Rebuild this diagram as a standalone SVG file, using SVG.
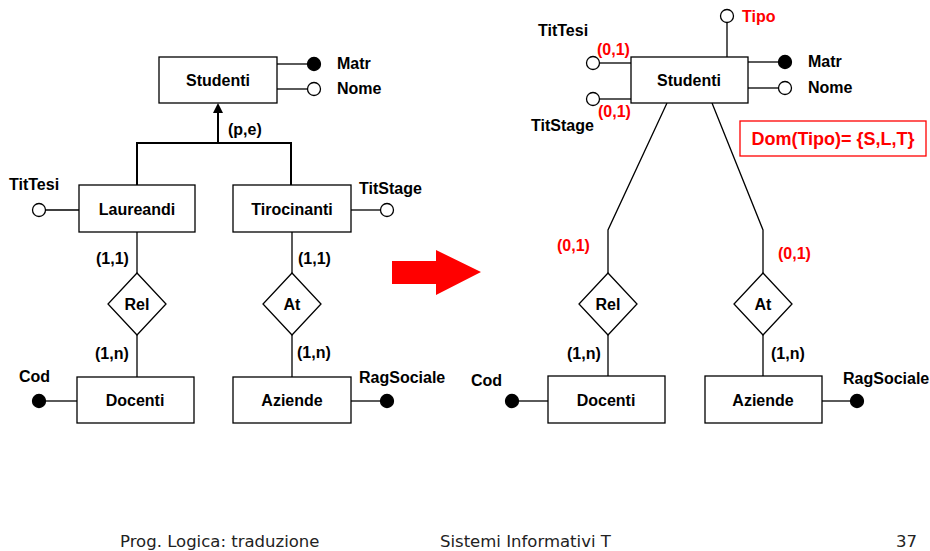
<svg xmlns="http://www.w3.org/2000/svg" width="930" height="551" viewBox="0 0 930 551">
<defs>
<style>
.box{fill:#fff;stroke:#000;stroke-width:1.3}
.ln{stroke:#000;stroke-width:1.3;fill:none}
.isa{stroke:#000;stroke-width:2;fill:none}
.t{font-family:"Liberation Sans",Arial,sans-serif;font-weight:bold;font-size:16px;fill:#000}
.c{text-anchor:middle}
.r{fill:#ff0000}
.oc{fill:#fff;stroke:#000;stroke-width:1.3}
.fc{fill:#000;stroke:#000;stroke-width:1.3}
.ft{font-family:"DejaVu Sans",Tahoma,sans-serif;font-size:16.5px;fill:#222}
</style>
</defs>

<g id="connectors">
<!-- left -->
<line class="ln" x1="277" y1="64" x2="307" y2="64"/>
<line class="ln" x1="277" y1="89" x2="307" y2="89"/>
<polyline class="isa" points="137,185 137,143 291,143 291,185"/>
<line class="isa" x1="218" y1="143" x2="218" y2="110"/>
<path d="M213,113 L218,103 L223,113 Z" fill="#000"/>
<line class="ln" x1="46" y1="210" x2="79" y2="210"/>
<line class="ln" x1="351" y1="210" x2="380" y2="210"/>
<line class="ln" x1="137" y1="232" x2="137" y2="273"/>
<line class="ln" x1="137" y1="335" x2="137" y2="377"/>
<line class="ln" x1="292" y1="232" x2="292" y2="273"/>
<line class="ln" x1="292" y1="335" x2="292" y2="377"/>
<line class="ln" x1="46" y1="401" x2="77" y2="401"/>
<line class="ln" x1="351" y1="401" x2="380" y2="401"/>
<!-- right -->
<line class="ln" x1="727" y1="57" x2="727" y2="23"/>
<line class="ln" x1="600" y1="63" x2="631" y2="63"/>
<line class="ln" x1="600" y1="99" x2="631" y2="99"/>
<line class="ln" x1="748" y1="62" x2="778" y2="62"/>
<line class="ln" x1="748" y1="88" x2="778" y2="88"/>
<polyline class="ln" points="667,103 608,230 608,273"/>
<polyline class="ln" points="712,103 763,230 763,273"/>
<line class="ln" x1="608" y1="335" x2="608" y2="376"/>
<line class="ln" x1="763" y1="335" x2="763" y2="376"/>
<line class="ln" x1="519" y1="401" x2="548" y2="401"/>
<line class="ln" x1="822" y1="401" x2="850" y2="401"/>
</g>

<!-- LEFT DIAGRAM -->
<g id="l-studenti"><rect class="box" x="159" y="57" width="118" height="46"/><text class="t c" x="218" y="86">Studenti</text></g>
<g id="l-matr"><circle class="fc" cx="314" cy="64" r="6.5"/><text class="t" x="337" y="69">Matr</text></g>
<g id="l-nome"><circle class="oc" cx="314" cy="89" r="6.5"/><text class="t" x="337" y="94">Nome</text></g>
<g id="l-pe"><text class="t" x="228" y="135">(p,e)</text></g>
<g id="l-laureandi"><rect class="box" x="79" y="185" width="116" height="47"/><text class="t c" x="137" y="215">Laureandi</text></g>
<g id="l-tirocinanti"><rect class="box" x="233" y="185" width="118" height="47"/><text class="t c" x="292" y="215">Tirocinanti</text></g>
<g id="l-tittesi"><circle class="oc" cx="39" cy="210" r="6.5"/><text class="t" x="9" y="190">TitTesi</text></g>
<g id="l-titstage"><circle class="oc" cx="387" cy="210" r="6.5"/><text class="t" x="359" y="194">TitStage</text></g>
<g id="l-rel"><polygon class="box" points="137,273 166,304 137,335 108,304"/><text class="t c" x="137" y="310">Rel</text></g>
<g id="l-at"><polygon class="box" points="292,273 321,304 292,335 263,304"/><text class="t c" x="292" y="310">At</text></g>
<g id="l-card"><text class="t" x="96" y="264">(1,1)</text><text class="t" x="95" y="359">(1,n)</text><text class="t" x="298" y="264">(1,1)</text><text class="t" x="297" y="358">(1,n)</text></g>
<g id="l-docenti"><rect class="box" x="77" y="377" width="117" height="46"/><text class="t c" x="135" y="406">Docenti</text></g>
<g id="l-aziende"><rect class="box" x="233" y="377" width="118" height="46"/><text class="t c" x="292" y="406">Aziende</text></g>
<g id="l-cod"><circle class="fc" cx="39" cy="401" r="6.5"/><text class="t" x="19" y="382">Cod</text></g>
<g id="l-ragsociale"><circle class="fc" cx="387" cy="401" r="6.5"/><text class="t" x="359" y="383">RagSociale</text></g>

<!-- ARROW -->
<g id="big-arrow"><polygon points="392,261 436,261 436,250 481,272 436,295 436,284 392,284" fill="#ff0000"/></g>

<!-- RIGHT DIAGRAM -->
<g id="r-studenti"><rect class="box" x="631" y="57" width="117" height="46"/><text class="t c" x="689" y="86">Studenti</text></g>
<g id="r-tipo"><circle class="oc" cx="727" cy="16" r="6.5"/><text class="t r" x="742" y="22">Tipo</text></g>
<g id="r-matr"><circle class="fc" cx="785" cy="62" r="6.5"/><text class="t" x="808" y="67">Matr</text></g>
<g id="r-nome"><circle class="oc" cx="785" cy="88" r="6.5"/><text class="t" x="808" y="93">Nome</text></g>
<g id="r-tittesi"><circle class="oc" cx="593" cy="63" r="6.5"/><text class="t" x="538" y="36">TitTesi</text><text class="t r" x="597" y="55">(0,1)</text></g>
<g id="r-titstage"><circle class="oc" cx="593" cy="99" r="6.5"/><text class="t" x="531" y="131">TitStage</text><text class="t r" x="598" y="117">(0,1)</text></g>
<g id="r-dom"><rect x="740" y="121" width="186" height="35" fill="#fff" stroke="#ff0000" stroke-width="1.3"/><text class="t r c" x="833" y="145" style="font-size:18px">Dom(Tipo)= {S,L,T}</text></g>
<g id="r-rel"><polygon class="box" points="608,273 637,304 608,335 579,304"/><text class="t c" x="608" y="310">Rel</text></g>
<g id="r-at"><polygon class="box" points="763,273 792,304 763,335 734,304"/><text class="t c" x="763" y="310">At</text></g>
<g id="r-card"><text class="t r" x="557" y="251">(0,1)</text><text class="t r" x="778" y="259">(0,1)</text><text class="t" x="567" y="359">(1,n)</text><text class="t" x="771" y="359">(1,n)</text></g>
<g id="r-docenti"><rect class="box" x="548" y="376" width="117" height="47"/><text class="t c" x="606" y="406">Docenti</text></g>
<g id="r-aziende"><rect class="box" x="705" y="376" width="117" height="47"/><text class="t c" x="763" y="406">Aziende</text></g>
<g id="r-cod"><circle class="fc" cx="512" cy="401" r="6.5"/><text class="t" x="471" y="386">Cod</text></g>
<g id="r-ragsociale"><circle class="fc" cx="857" cy="401" r="6.5"/><text class="t" x="843" y="384">RagSociale</text></g>

<!-- FOOTER -->
<g id="footer">
<text class="ft" x="120" y="547">Prog. Logica: traduzione</text>
<text class="ft" x="440" y="547">Sistemi Informativi T</text>
<text class="ft" x="917" y="547" text-anchor="end">37</text>
</g>
</svg>
